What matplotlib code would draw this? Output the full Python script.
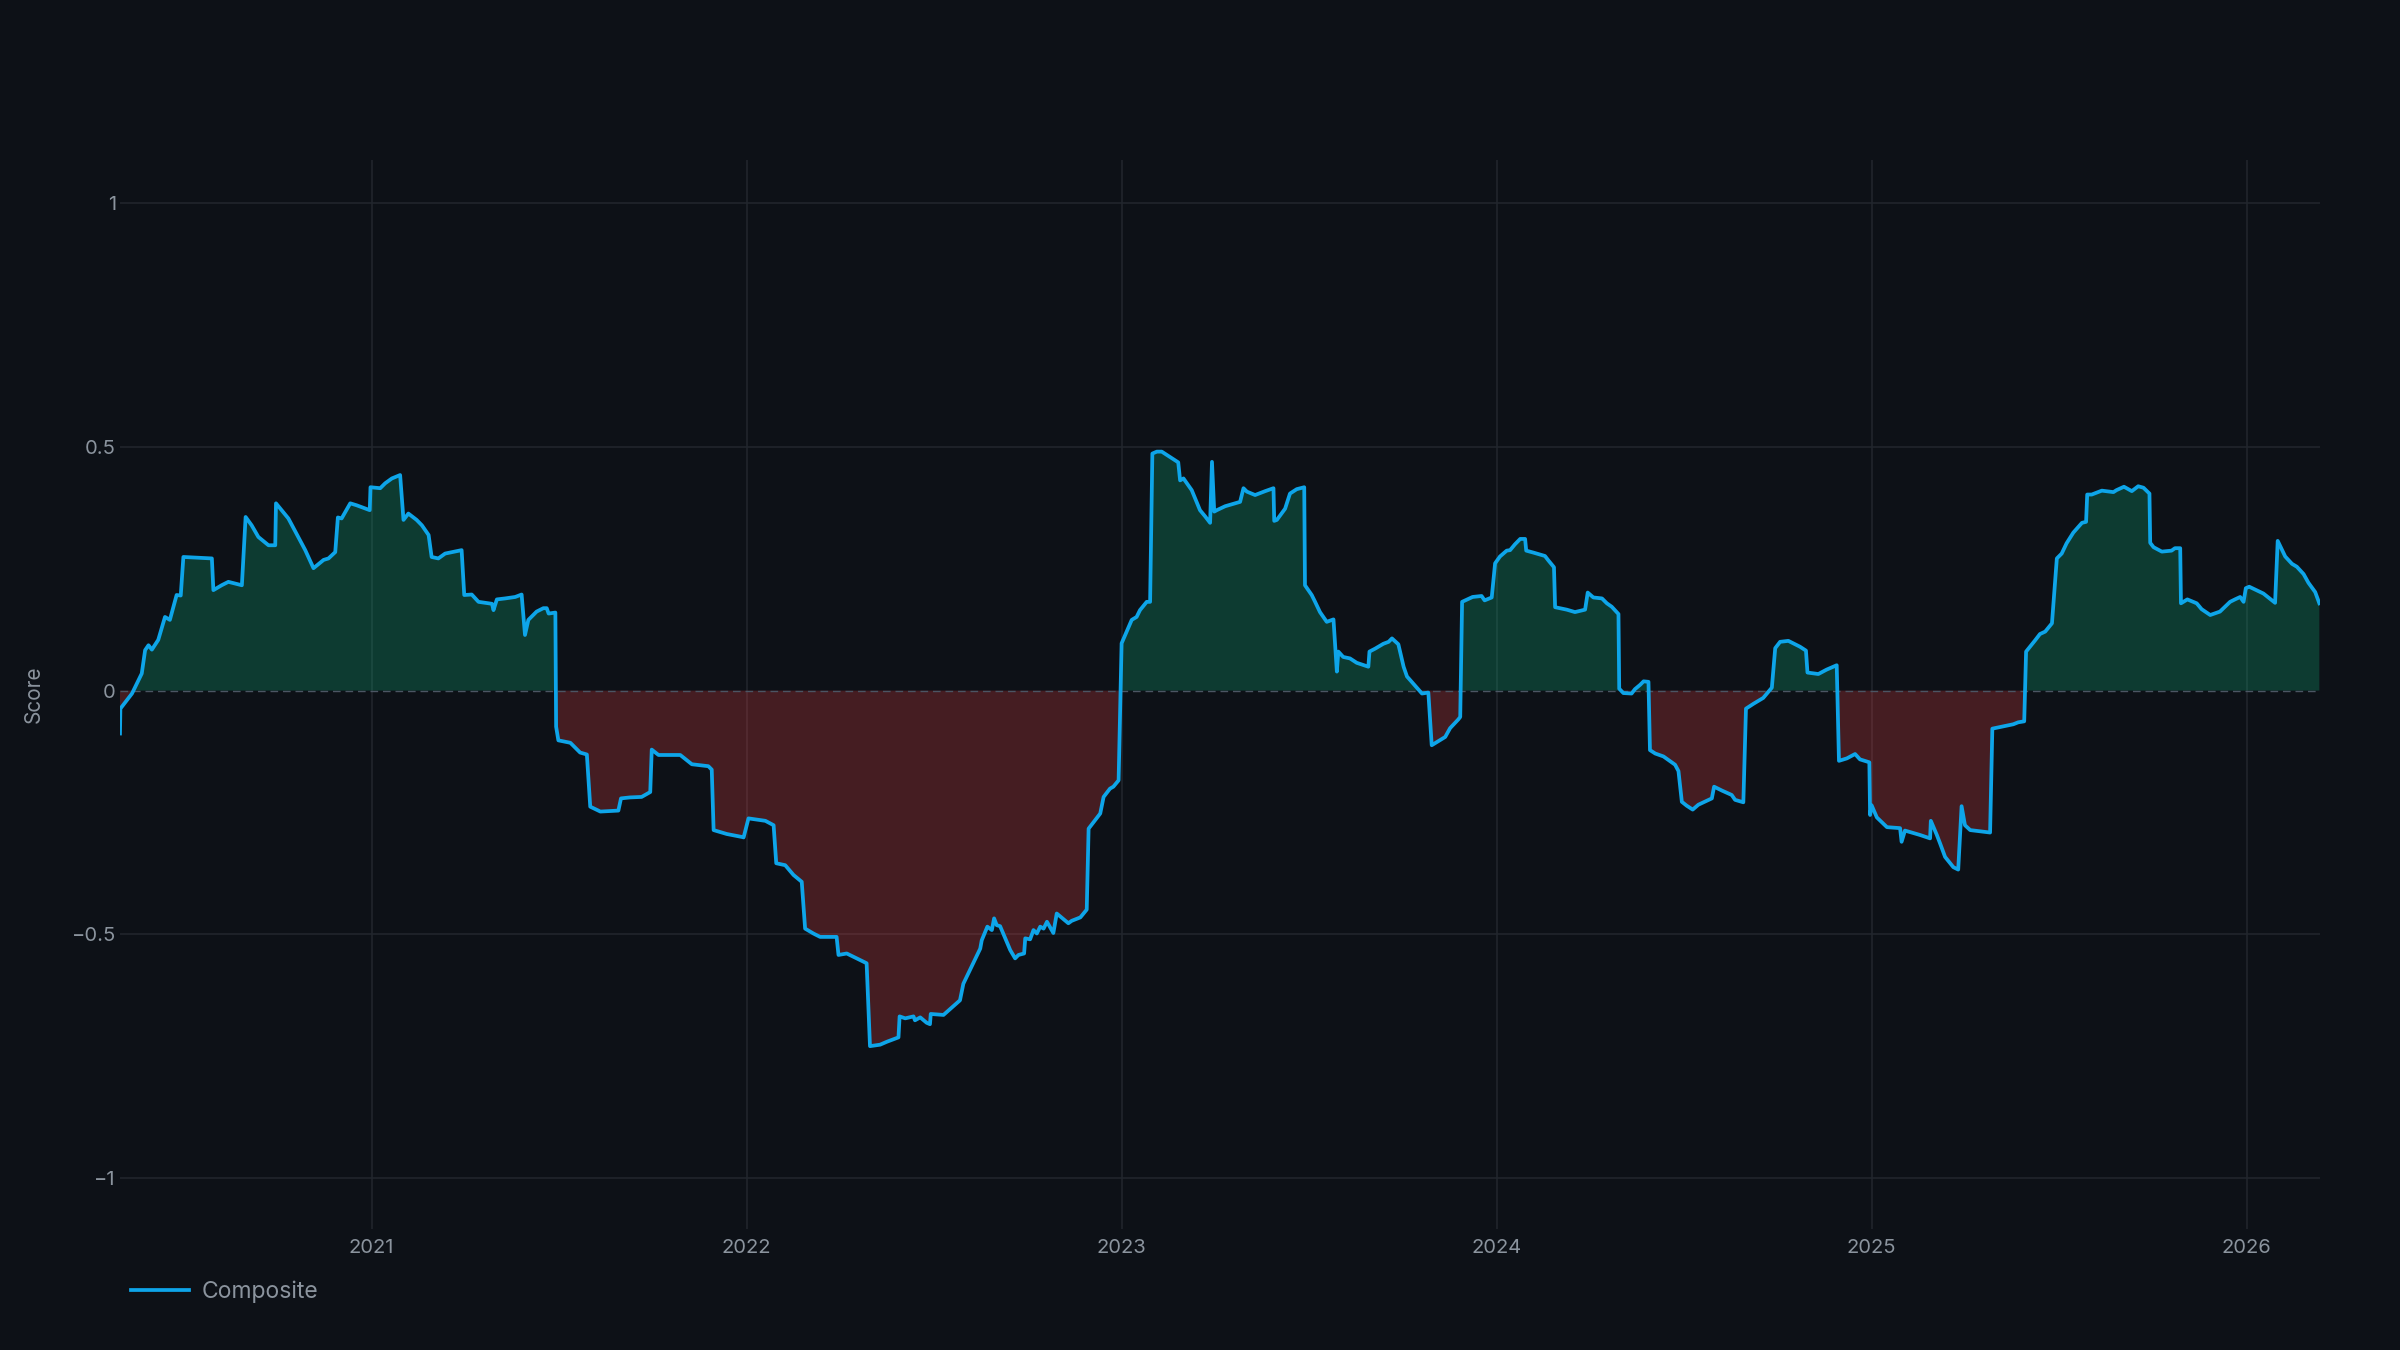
import matplotlib
matplotlib.use("Agg")
import matplotlib.pyplot as plt
import numpy as np

plt.rcParams["font.family"] = ["Inter", "DejaVu Sans"]

# composite score, x in decimal years
dates = [
    2020.329, 2020.330, 2020.351, 2020.361, 2020.387, 2020.396, 2020.405, 2020.414,
    2020.431, 2020.449, 2020.462, 2020.480, 2020.491, 2020.498, 2020.574, 2020.578,
    2020.600, 2020.618, 2020.654, 2020.664, 2020.680, 2020.698, 2020.725, 2020.743,
    2020.745, 2020.778, 2020.823, 2020.845, 2020.872, 2020.885, 2020.903, 2020.910,
    2020.920, 2020.943, 2020.960, 2020.995, 2020.997, 2021.023, 2021.036, 2021.054,
    2021.076, 2021.085, 2021.098, 2021.120, 2021.134, 2021.152, 2021.160, 2021.178,
    2021.196, 2021.240, 2021.247, 2021.267, 2021.285, 2021.321, 2021.325, 2021.334,
    2021.356, 2021.383, 2021.400, 2021.409, 2021.418, 2021.440, 2021.458, 2021.467,
    2021.472, 2021.490, 2021.492, 2021.498, 2021.530, 2021.556, 2021.574, 2021.583,
    2021.610, 2021.658, 2021.665, 2021.689, 2021.720, 2021.743, 2021.747, 2021.765,
    2021.823, 2021.854, 2021.898, 2021.907, 2021.912, 2021.947, 2021.987, 2021.992,
    2022.005, 2022.050, 2022.072, 2022.079, 2022.103, 2022.125, 2022.147, 2022.156,
    2022.178, 2022.196, 2022.240, 2022.245, 2022.267, 2022.320, 2022.329, 2022.356,
    2022.374, 2022.405, 2022.408, 2022.423, 2022.445, 2022.449, 2022.463, 2022.480,
    2022.489, 2022.491, 2022.525, 2022.569, 2022.578, 2022.623, 2022.627, 2022.642,
    2022.654, 2022.660, 2022.667, 2022.676, 2022.703, 2022.716, 2022.725, 2022.740,
    2022.743, 2022.756, 2022.765, 2022.774, 2022.783, 2022.792, 2022.801, 2022.818,
    2022.827, 2022.858, 2022.867, 2022.890, 2022.907, 2022.912, 2022.943, 2022.952,
    2022.969, 2022.978, 2022.992, 2023.000, 2023.027, 2023.040, 2023.049, 2023.067,
    2023.076, 2023.082, 2023.094, 2023.107, 2023.151, 2023.156, 2023.165, 2023.187,
    2023.209, 2023.223, 2023.236, 2023.241, 2023.247, 2023.254, 2023.276, 2023.316,
    2023.325, 2023.334, 2023.356, 2023.383, 2023.405, 2023.407, 2023.414, 2023.436,
    2023.449, 2023.467, 2023.487, 2023.489, 2023.507, 2023.516, 2023.529, 2023.547,
    2023.565, 2023.574, 2023.578, 2023.591, 2023.609, 2023.627, 2023.658, 2023.661,
    2023.676, 2023.698, 2023.712, 2023.721, 2023.738, 2023.752, 2023.761, 2023.801,
    2023.818, 2023.827, 2023.863, 2023.876, 2023.898, 2023.903, 2023.908, 2023.936,
    2023.960, 2023.968, 2023.987, 2023.996, 2024.009, 2024.027, 2024.036, 2024.049,
    2024.063, 2024.076, 2024.079, 2024.098, 2024.129, 2024.138, 2024.153, 2024.156,
    2024.187, 2024.209, 2024.236, 2024.243, 2024.258, 2024.281, 2024.294, 2024.307,
    2024.325, 2024.327, 2024.338, 2024.360, 2024.369, 2024.383, 2024.392, 2024.405,
    2024.409, 2024.423, 2024.445, 2024.476, 2024.485, 2024.494, 2024.507, 2024.523,
    2024.538, 2024.574, 2024.580, 2024.601, 2024.627, 2024.636, 2024.658, 2024.665,
    2024.685, 2024.711, 2024.734, 2024.743, 2024.756, 2024.778, 2024.809, 2024.825,
    2024.829, 2024.858, 2024.880, 2024.907, 2024.913, 2024.934, 2024.956, 2024.969,
    2024.994, 2024.996, 2025.000, 2025.014, 2025.041, 2025.076, 2025.080, 2025.089,
    2025.129, 2025.156, 2025.158, 2025.174, 2025.183, 2025.196, 2025.218, 2025.231,
    2025.240, 2025.249, 2025.263, 2025.316, 2025.322, 2025.378, 2025.391, 2025.407,
    2025.412, 2025.436, 2025.449, 2025.463, 2025.481, 2025.494, 2025.507, 2025.520,
    2025.538, 2025.561, 2025.572, 2025.575, 2025.587, 2025.614, 2025.645, 2025.653,
    2025.673, 2025.694, 2025.711, 2025.725, 2025.741, 2025.743, 2025.752, 2025.774,
    2025.800, 2025.809, 2025.823, 2025.825, 2025.842, 2025.867, 2025.880, 2025.903,
    2025.929, 2025.956, 2025.969, 2025.983, 2025.992, 2025.998, 2026.007, 2026.045,
    2026.058, 2026.076, 2026.083, 2026.103, 2026.121, 2026.134, 2026.152, 2026.165,
    2026.183, 2026.194,
]
composite = [
    -0.088, -0.037, -0.016, -0.006, 0.035, 0.083, 0.093, 0.084,
    0.104, 0.151, 0.145, 0.196, 0.195, 0.274, 0.271, 0.206,
    0.216, 0.223, 0.216, 0.356, 0.339, 0.315, 0.298, 0.298,
    0.384, 0.353, 0.288, 0.251, 0.268, 0.271, 0.284, 0.355,
    0.353, 0.384, 0.380, 0.370, 0.417, 0.415, 0.425, 0.435,
    0.442, 0.350, 0.363, 0.350, 0.339, 0.319, 0.274, 0.271,
    0.281, 0.288, 0.196, 0.197, 0.182, 0.178, 0.165, 0.187,
    0.189, 0.192, 0.197, 0.114, 0.145, 0.162, 0.169, 0.169,
    0.158, 0.160, -0.074, -0.102, -0.107, -0.127, -0.131, -0.238,
    -0.248, -0.246, -0.221, -0.219, -0.218, -0.208, -0.121, -0.132,
    -0.132, -0.151, -0.155, -0.162, -0.286, -0.294, -0.300, -0.301,
    -0.262, -0.267, -0.276, -0.354, -0.358, -0.378, -0.392, -0.488,
    -0.498, -0.505, -0.505, -0.542, -0.539, -0.559, -0.729, -0.726,
    -0.720, -0.711, -0.668, -0.672, -0.668, -0.676, -0.670, -0.681,
    -0.684, -0.663, -0.665, -0.635, -0.601, -0.529, -0.512, -0.484,
    -0.491, -0.467, -0.481, -0.483, -0.532, -0.549, -0.542, -0.539,
    -0.508, -0.510, -0.491, -0.498, -0.484, -0.488, -0.474, -0.497,
    -0.457, -0.477, -0.472, -0.465, -0.449, -0.283, -0.252, -0.218,
    -0.201, -0.197, -0.184, 0.097, 0.145, 0.151, 0.165, 0.182,
    0.182, 0.486, 0.490, 0.490, 0.468, 0.431, 0.435, 0.411,
    0.370, 0.357, 0.344, 0.469, 0.367, 0.370, 0.378, 0.387,
    0.415, 0.408, 0.401, 0.409, 0.415, 0.348, 0.350, 0.373,
    0.404, 0.413, 0.417, 0.216, 0.196, 0.182, 0.161, 0.141,
    0.146, 0.039, 0.080, 0.069, 0.066, 0.057, 0.049, 0.080,
    0.086, 0.096, 0.100, 0.107, 0.095, 0.049, 0.029, -0.006,
    -0.004, -0.112, -0.095, -0.077, -0.059, -0.054, 0.182, 0.192,
    0.194, 0.185, 0.191, 0.261, 0.275, 0.287, 0.288, 0.300,
    0.311, 0.311, 0.287, 0.283, 0.276, 0.267, 0.253, 0.171,
    0.166, 0.161, 0.166, 0.201, 0.191, 0.189, 0.179, 0.172,
    0.157, 0.004, -0.005, -0.006, 0.003, 0.012, 0.019, 0.018,
    -0.122, -0.129, -0.135, -0.152, -0.165, -0.228, -0.236, -0.244,
    -0.234, -0.221, -0.197, -0.205, -0.214, -0.224, -0.229, -0.037,
    -0.027, -0.015, 0.006, 0.087, 0.100, 0.102, 0.090, 0.082,
    0.037, 0.034, 0.043, 0.052, -0.144, -0.139, -0.130, -0.141,
    -0.147, -0.255, -0.235, -0.260, -0.280, -0.282, -0.310, -0.287,
    -0.296, -0.303, -0.267, -0.296, -0.314, -0.341, -0.362, -0.367,
    -0.237, -0.276, -0.286, -0.291, -0.078, -0.069, -0.065, -0.063,
    0.080, 0.103, 0.116, 0.121, 0.138, 0.271, 0.281, 0.302,
    0.324, 0.344, 0.346, 0.402, 0.402, 0.410, 0.407, 0.411,
    0.418, 0.409, 0.419, 0.416, 0.404, 0.303, 0.294, 0.285,
    0.287, 0.292, 0.292, 0.179, 0.187, 0.179, 0.167, 0.155,
    0.162, 0.182, 0.187, 0.192, 0.182, 0.210, 0.213, 0.199,
    0.191, 0.180, 0.307, 0.275, 0.260, 0.254, 0.239, 0.221,
    0.202, 0.179,
]
year_ticks = [2021, 2022, 2023, 2024, 2025, 2026]
score_ticks = [-1, -0.5, 0, 0.5, 1]
score_labels = ["\u22121", "\u22120.5", "0", "0.5", "1"]

BG = "#0d1117"
TXT = "#8b949e"
GRID = "#22272e"
LINE = "#0ea5e9"

x = np.array(dates)
y = np.array(composite)

fig = plt.figure(figsize=(24, 13.5), dpi=100, facecolor=BG)
ax = fig.add_axes([0.05, 0.0896, 0.9167, 0.7919])
ax.set_facecolor(BG)

for t in year_ticks:
    ax.axvline(t, color=GRID, lw=1.1, zorder=0)
for s in score_ticks:
    if s != 0:
        ax.axhline(s, color=GRID, lw=1.1, zorder=0)

ax.fill_between(x, y, 0, where=y >= 0, interpolate=True,
                color="#10b981", alpha=0.25, lw=0, zorder=1)
ax.fill_between(x, y, 0, where=y <= 0, interpolate=True,
                color="#ef4444", alpha=0.25, lw=0, zorder=1)
ax.axhline(0, color="#4b5563", lw=1.0, dashes=(5.5, 3.5), zorder=2)
ax.plot(x, y, color=LINE, lw=2.7, zorder=3, label="Composite",
        solid_joinstyle="round")

ax.set_xlim(2020.329, 2026.196)
ax.set_ylim(-1.104, 1.088)
ax.set_xticks(year_ticks)
ax.set_xticklabels([str(t) for t in year_ticks])
ax.set_yticks(score_ticks)
ax.set_yticklabels(score_labels)
ax.tick_params(axis="both", length=0, labelsize=14.5, colors=TXT)
ax.tick_params(axis="x", pad=7)
ax.tick_params(axis="y", pad=3)
for sp in ax.spines.values():
    sp.set_visible(False)

fig.text(34 / 2400, 1 - 694 / 1350, "Score", rotation=90, ha="center",
         va="center", color=TXT, fontsize=15)

fig.legend(loc="center left", bbox_to_anchor=(131 / 2400, 1 - 1292 / 1350),
           frameon=False, fontsize=16.5, labelcolor=TXT, handlelength=2.55,
           handletextpad=0.55, borderpad=0, borderaxespad=0)

fig.savefig("out.png", dpi=100, facecolor=BG)
